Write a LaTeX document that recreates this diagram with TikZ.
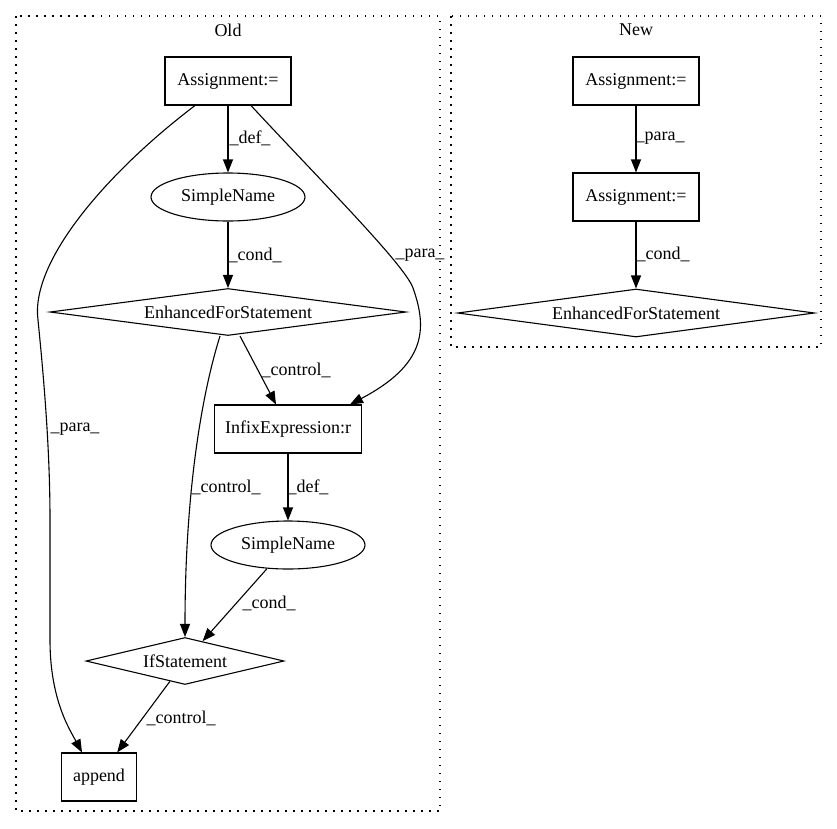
\documentclass[tikz,border=0pt]{standalone}
\usepackage{fontspec}
\setmainfont{Liberation Serif}
\usetikzlibrary{calc,shapes.geometric,arrows.meta}

\begin{document}
\begin{tikzpicture}[x=1pt,y=-1pt,
    every node/.style={font=\fontsize{18}{21}\selectfont},
    box/.style={draw,line width=1.1pt,rectangle,inner sep=0pt,minimum width=126pt,minimum height=48pt},
    oval/.style={draw,line width=1.1pt,ellipse,inner sep=0pt,minimum width=154pt,minimum height=48pt},
    rhomb/.style={draw,line width=1.1pt,diamond,inner sep=0pt},
    edge/.style={line width=1.1pt,-{Triangle[length=13pt,width=10pt]}},
    lbl/.style={inner sep=0pt},
    cluster/.style={line width=1.1pt,dash pattern=on 1.5pt off 6.5pt}]
  \useasboundingbox (0,0) rectangle (837,828);

  % clusters
  \draw[cluster] (16,16) rectangle (440,811);
  \draw[cluster] (451,16) rectangle (821,347);
  \node (old) at (228,30) {Old};
  \node (new) at (636,30) {New};

  % Old
  \node[box] (a1) at (228,81) {Assignment:=};
  \node[oval] (sn1) at (228,197) {SimpleName};
  \node[rhomb,shape aspect=7.5,minimum width=356pt,minimum height=47pt] (efs) at (228,312) {EnhancedForStatement};
  \node[box,minimum width=147pt] (infix) at (288,429) {InfixExpression:r};
  \node[oval] (sn2) at (288,545) {SimpleName};
  \node[rhomb,shape aspect=4.2,minimum width=198pt,minimum height=47pt] (ifs) at (185,661) {IfStatement};
  \node[box,minimum width=75pt] (app) at (99,777) {append};

  \draw[edge] (a1) -- (sn1);
  \draw[edge] (sn1) -- (efs);
  \draw[edge] ($(a1.south)+(23,0)$) .. controls (320,180) and (405,265) .. (413,288)
    .. controls (428,330) and (425,365) .. ($(infix.north)+(62,0)$);
  \draw[edge] ($(a1.south)+(-33,0)$) .. controls (110,170) and (30,260) .. (38,320)
    .. controls (44,380) and (50,450) .. (50,520) -- (50,640)
    .. controls (50,700) and (70,730) .. ($(app.north)+(-17,0)$);
  \draw[edge] ($(efs.south)+(12,0)$) -- ($(infix.north)+(-12,0)$);
  \draw[edge] ($(efs.south)+(-8,0)$) .. controls (200,400) and (185,500) .. (ifs.north);
  \draw[edge] (infix) -- (sn2);
  \draw[edge] (sn2) -- (ifs);
  \draw[edge] (ifs) -- (app);

  \node[lbl] (l1) at (250,138) {\_def\_};
  \node[lbl] (l2) at (255,255) {\_cond\_};
  \node[lbl] (l3) at (420,255) {\_para\_};
  \node[lbl] (l4) at (75,429) {\_para\_};
  \node[lbl] (l5) at (296,370) {\_control\_};
  \node[lbl] (l6) at (226,487) {\_control\_};
  \node[lbl] (l7) at (308,487) {\_def\_};
  \node[lbl] (l8) at (269,603) {\_cond\_};
  \node[lbl] (l9) at (181,718) {\_control\_};

  % New
  \node[box] (b1) at (636,81) {Assignment:=};
  \node[box] (b2) at (636,197) {Assignment:=};
  \node[rhomb,shape aspect=7.5,minimum width=357pt,minimum height=48pt] (efs2) at (636,313) {EnhancedForStatement};

  \draw[edge] (b1) -- (b2);
  \draw[edge] (b2) -- (efs2);
  \node[lbl] (m1) at (660,138) {\_para\_};
  \node[lbl] (m2) at (663,254) {\_cond\_};
\end{tikzpicture}
\end{document}
